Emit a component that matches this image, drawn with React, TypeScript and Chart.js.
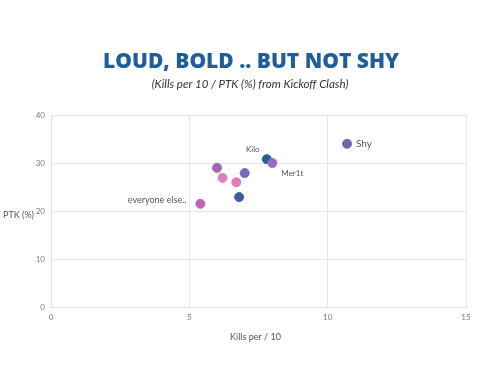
import React, { useEffect, useRef } from "react";
import { Chart, registerables } from "chart.js";

Chart.register(...registerables);

const names = ["Shy", "Kilo", "Mer1t", "", "", "", "", "", "everyone else.."];
const killsPer10 = [10.7, 7.8, 8.0, 6.0, 6.2, 7.0, 6.7, 6.8, 5.4];
const ptk = [34.0, 30.8, 30.0, 29.0, 26.9, 27.9, 26.0, 22.9, 21.5];
const colors = ["#7462b0", "#1e5f96", "#9a6cc0", "#a463b4", "#e07fc0", "#7a69ba", "#e378b6", "#3b5ca3", "#c264b4"];
const xTicks = [0, 5, 10, 15];
const yTicks = [0, 10, 20, 30, 40];
const titleText = "LOUD, BOLD .. BUT NOT SHY";
const subtitleText = "(Kills per 10 / PTK (%) from Kickoff Clash)";
const xTitle = "Kills per / 10";
const yTitle = "PTK (%)";

const textPlugin = {
  id: "texts",
  afterDraw(chart: any) {
    const ctx = chart.ctx;
    const area = chart.chartArea;
    ctx.save();
    ctx.textAlign = "center";
    ctx.textBaseline = "middle";
    ctx.fillStyle = "#1f5f99";
    ctx.font = "800 21px 'Open Sans'";
    ctx.fillText(titleText, 251, 62);
    ctx.fillStyle = "#333";
    ctx.font = "italic 11.5px Lato";
    ctx.fillText(subtitleText, 250, 84);
    ctx.fillStyle = "#555";
    ctx.font = "9px Lato";
    ctx.fillText(xTitle, (area.left + area.right) / 2 - 3, 337);
    ctx.textAlign = "left";
    ctx.fillText(yTitle, 3, 215);
    // point labels
    const meta = chart.getDatasetMeta(0);
    meta.data.forEach((pt: any, i: number) => {
      const name = names[i];
      if (!name) return;
      ctx.fillStyle = "#555";
      if (i === 0) {
        ctx.font = "10px Lato";
        ctx.textAlign = "left";
        ctx.fillText(name, pt.x + 9, pt.y);
      } else if (i === 1) {
        ctx.font = "8px Lato";
        ctx.textAlign = "center";
        ctx.fillText(name, pt.x - 14, pt.y - 10);
      } else if (i === 2) {
        ctx.font = "8px Lato";
        ctx.textAlign = "left";
        ctx.fillText(name, pt.x + 9, pt.y + 10);
      } else {
        ctx.font = "9px Lato";
        ctx.textAlign = "right";
        ctx.fillText(name, pt.x - 14, pt.y - 4);
      }
    });
    ctx.restore();
  },
};

export default function App() {
  const ref = useRef<HTMLCanvasElement>(null);
  useEffect(() => {
    const chart = new Chart(ref.current!, {
      type: "scatter",
      data: {
        datasets: [
          {
            data: killsPer10.map((x, i) => ({ x, y: ptk[i] })),
            backgroundColor: colors,
            borderColor: colors,
            pointRadius: 4.5,
            pointHoverRadius: 4.5,
          },
        ],
      },
      options: {
        animation: false,
        responsive: false,
        layout: { padding: { left: 0, right: 34, top: 115, bottom: 0 } },
        plugins: { legend: { display: false }, tooltip: { enabled: false } },
        scales: {
          x: {
            type: "linear",
            min: 0,
            max: 15,
            afterBuildTicks: (s: any) => { s.ticks = xTicks.map((v) => ({ value: v })); },
            afterFit: (s: any) => { s.height = 68; },
            grid: { color: "#e6e6e6", drawTicks: false },
            border: { color: "#e0e0e0" },
            ticks: { color: "#777", font: { family: "Lato", size: 8 }, padding: 6 },
          },
          y: {
            type: "linear",
            min: 0,
            max: 40,
            afterBuildTicks: (s: any) => { s.ticks = yTicks.map((v) => ({ value: v })); },
            afterFit: (s: any) => { s.width = 51; },
            grid: { color: "#e6e6e6", drawTicks: false },
            border: { color: "#e0e0e0" },
            ticks: { color: "#777", font: { family: "Lato", size: 8 }, padding: 6 },
          },
        },
      },
      plugins: [textPlugin],
    });
    return () => chart.destroy();
  }, []);
  return (
    <div style={{ position: "fixed", left: 0, top: 0, width: 500, height: 375, background: "#fff" }}>
      <canvas ref={ref} width={500} height={375} style={{ width: 500, height: 375 }} />
    </div>
  );
}
